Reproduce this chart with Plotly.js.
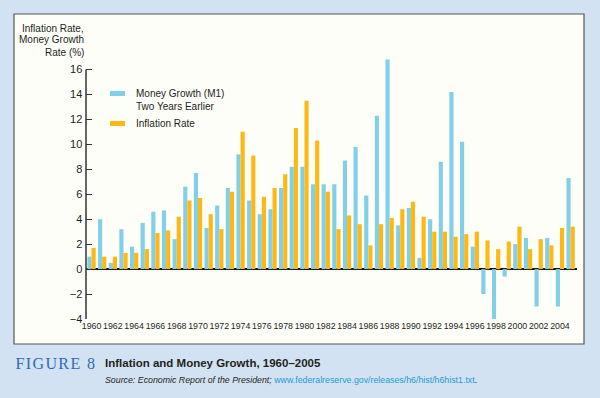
<!DOCTYPE html>
<html>
<head>
<meta charset="utf-8">
<script src="https://cdn.plot.ly/plotly-3.0.1.min.js"></script>
<style>
  html, body { margin: 0; padding: 0; background: #d3e2f2; }
  #chart { width: 600px; height: 398px; }
</style>
</head>
<body>
<div id="chart"></div>
<script>
// ---- Data ----
const years = [1960,1961,1962,1963,1964,1965,1966,1967,1968,1969,
               1970,1971,1972,1973,1974,1975,1976,1977,1978,1979,
               1980,1981,1982,1983,1984,1985,1986,1987,1988,1989,
               1990,1991,1992,1993,1994,1995,1996,1997,1998,1999,
               2000,2001,2002,2003,2004,2005];
const moneyGrowth = [1.0,4.0,0.5,3.2,1.8,3.7,4.6,4.7,2.4,6.6,
                     7.7,3.3,5.1,6.5,9.2,5.5,4.4,4.8,6.5,8.2,
                     8.2,6.8,6.8,6.8,8.7,9.8,5.9,12.3,16.8,3.5,
                     4.9,0.9,4.0,8.6,14.2,10.2,1.8,-2.0,-4.0,-0.6,
                     2.0,2.5,-3.0,2.5,-3.0,7.3];
const inflation = [1.7,1.0,1.0,1.3,1.3,1.6,2.9,3.1,4.2,5.5,
                   5.7,4.4,3.2,6.2,11.0,9.1,5.8,6.5,7.6,11.3,
                   13.5,10.3,6.2,3.2,4.3,3.6,1.9,3.6,4.1,4.8,
                   5.4,4.2,3.0,3.0,2.6,2.8,3.0,2.3,1.6,2.2,
                   3.4,1.6,2.4,1.9,3.3,3.4];
const seriesNames = ["Money Growth (M1)<br>Two Years Earlier", "Inflation Rate"];
const xTickVals = [1960,1962,1964,1966,1968,1970,1972,1974,1976,1978,1980,1982,
                   1984,1986,1988,1990,1992,1994,1996,1998,2000,2002,2004];
const yTickVals = [-4,-2,0,2,4,6,8,10,12,14,16];
const yTitleLines = ["Inflation Rate,", "Money Growth", "Rate (%)"];
const figureLabel = "FIGURE 8";
const figureTitle = "Inflation and Money Growth, 1960–2005";
const sourceText = "Source: Economic Report of the President;";
const sourceLink = "www.federalreserve.gov/releases/h6/hist/h6hist1.txt";

// ---- Geometry helpers (pixel -> paper) ----
const W = 600, H = 398;
const M = {l: 86, r: 23, t: 57, b: 79};
const PW = W - M.l - M.r, PH = H - M.t - M.b;
const px = x => (x - M.l) / PW;
const py = y => 1 - (y - M.t) / PH;

const FONT = '"Liberation Sans", Arial, Helvetica, sans-serif';
const BLUE = '#82d0e8';
const ORANGE = '#fdb813';

const traces = [
  {type: 'bar', x: years, y: moneyGrowth, name: seriesNames[0],
   marker: {color: BLUE, line: {width: 0}}},
  {type: 'bar', x: years, y: inflation, name: seriesNames[1],
   marker: {color: ORANGE, line: {width: 0}}}
];

const annotations = [];
yTitleLines.forEach((t, i) => {
  annotations.push({xref: 'paper', yref: 'paper', x: px(86), y: py(28 + 12 * i),
    xanchor: 'right', yanchor: 'middle', showarrow: false, text: t,
    font: {family: FONT, size: 10, color: '#231f20'}});
});
annotations.push({xref: 'paper', yref: 'paper', x: px(19), y: py(363),
  xanchor: 'left', yanchor: 'middle', showarrow: false,
  text: figureLabel,
  font: {family: '"Liberation Serif", "DejaVu Serif", serif', size: 16, color: '#2b6cb3'}});
annotations.push({xref: 'paper', yref: 'paper', x: px(103), y: py(363),
  xanchor: 'left', yanchor: 'middle', showarrow: false,
  text: '<b>' + figureTitle + '</b>',
  font: {family: FONT, size: 11.5, color: '#231f20'}});
annotations.push({xref: 'paper', yref: 'paper', x: px(103), y: py(380),
  xanchor: 'left', yanchor: 'middle', showarrow: false,
  text: '<i>' + sourceText + '</i> <span style="color:#1c9ad6">' + sourceLink + '</span>.',
  font: {family: FONT, size: 8.8, color: '#231f20'}});

const yMin = -4, yTop = 16;
const layout = {
  width: W, height: H,
  margin: M,
  paper_bgcolor: '#d3e2f2',
  plot_bgcolor: 'rgba(0,0,0,0)',
  barmode: 'group',
  bargap: 0.22,
  bargroupgap: 0,
  showlegend: true,
  legend: {x: px(96), y: py(80), xanchor: 'left', yanchor: 'top',
           bgcolor: 'rgba(0,0,0,0)', borderwidth: 0, traceorder: 'normal',
           font: {family: FONT, size: 10, color: '#231f20'}},
  xaxis: {range: [1959.48, 2005.6], tickvals: xTickVals, ticks: '', showgrid: false,
          showline: false, zeroline: false, tickangle: 0,
          tickfont: {family: FONT, size: 8.8, color: '#231f20'}},
  yaxis: {range: [yMin, 17], tickvals: yTickVals, ticks: 'inside', ticklen: 6, tickwidth: 1,
          tickcolor: '#333', showgrid: false, showline: true,
          linecolor: 'rgba(0,0,0,0)', linewidth: 1.5,
          zeroline: true, zerolinecolor: '#111', zerolinewidth: 1.5,
          tickfont: {family: FONT, size: 11, color: '#231f20'}},
  shapes: [
    {type: 'rect', xref: 'paper', yref: 'paper', layer: 'below',
     x0: px(14), x1: px(584), y0: py(344), y1: py(14),
     fillcolor: '#fefef9', line: {color: '#555', width: 1.2}},
    {type: 'line', xref: 'paper', yref: 'y', layer: 'above',
     x0: 0, x1: 0, y0: yMin, y1: yTop, line: {color: '#333', width: 1.5}}
  ],
  annotations: annotations
};

Plotly.newPlot('chart', traces, layout, {displayModeBar: false, staticPlot: true}).then(gd => {
  // letter-spaced "FIGURE 8" label, as in the printed caption
  gd.querySelectorAll('.annotation-text').forEach(el => {
    if (el.textContent === figureLabel) el.setAttribute('letter-spacing', '1.4px');
  });
  // flat legend swatches like the printed key
  const items = gd.querySelectorAll('.legend .traces');
  items.forEach((it, i) => {
    const p = it.querySelector('.legendpoints path');
    if (!p) return;
    const dy = (i === 0) ? -6 : 0;
    p.setAttribute('d', `M9,${dy + 2.5}H-6V${dy - 2.5}H9Z`);
  });
});
</script>
</body>
</html>
